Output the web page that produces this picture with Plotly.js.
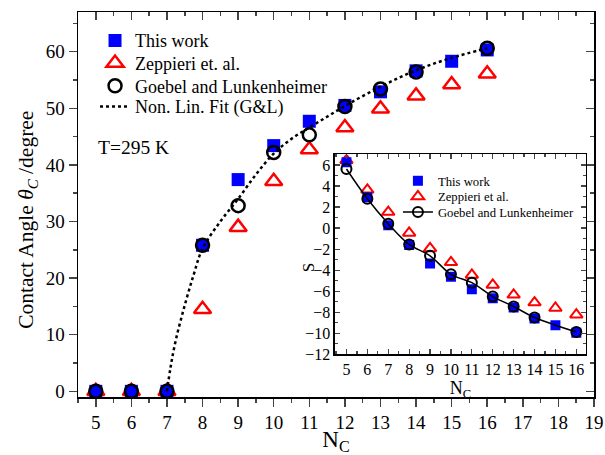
<!DOCTYPE html>
<html>
<head>
<meta charset="utf-8">
<script src="https://cdn.plot.ly/plotly-3.0.1.min.js"></script>
<style>
html,body{margin:0;padding:0;background:#fff;}
#chart{width:605px;height:455px;}
#chart svg text, #chart svg tspan { font-family: 'Liberation Serif', 'Times New Roman', serif !important; }
</style>
</head>
<body>
<div id="chart"></div>
<script>
// ---- Main chart data: contact angle vs N_C ----
const nc = [5, 6, 7, 8, 9, 10, 11, 12, 13, 14, 15, 16];
const thisWorkTheta = [0, 0, 0, 25.8, 37.4, 43.4, 47.7, 50.5, 52.9, 56.6, 58.3, 60.3];
const zeppieriTheta = [0, 0, 0, 14.5, 29.0, 37.1, 42.7, 46.6, 49.9, 52.2, 54.2, 56.1];
const goebelNc = [5, 6, 7, 8, 9, 10, 11, 12, 13, 14, 16];
const goebelTheta = [0, 0, 0, 25.8, 32.8, 42.2, 45.3, 50.3, 53.4, 56.4, 60.6];
const fitNc = [7, 7.1, 7.25, 7.5, 7.75, 8, 8.5, 9, 9.5, 10, 10.5, 11, 11.5, 12, 13, 14, 15, 16];
const fitTheta = [0, 4.2, 9.1, 15.2, 20.6, 25.2, 30.0, 34.0, 38.3, 42.0, 44.6, 46.6, 48.5, 50.4, 53.8, 56.7, 58.9, 60.6];

// ---- Inset data: S vs N_C ----
const insetNc = [5, 6, 7, 8, 9, 10, 11, 12, 13, 14, 15, 16];
const thisWorkS = [6.25, 2.94, 0.26, -1.6, -3.36, -4.62, -5.81, -6.67, -7.55, -8.6, -9.25, -9.95];
const zeppieriS = [6.45, 3.64, 1.52, -0.46, -1.94, -3.26, -4.46, -5.41, -6.35, -7.08, -7.6, -8.24];
const goebelInsetNc = [5, 6, 7, 8, 9, 10, 11, 12, 13, 14, 16];
const goebelS = [5.62, 2.79, 0.42, -1.56, -2.64, -4.4, -5.19, -6.51, -7.46, -8.5, -9.88];

const xTickVals = [5, 6, 7, 8, 9, 10, 11, 12, 13, 14, 15, 16, 17, 18, 19];
const yTickVals = [0, 10, 20, 30, 40, 50, 60];
const insetXTicks = [5, 6, 7, 8, 9, 10, 11, 12, 13, 14, 15, 16];
const insetYTicks = [-12, -10, -8, -6, -4, -2, 0, 2, 4, 6];

const BLUE = '#0000FF', RED = '#FF0000', BLACK = '#000000';
const FONT = 'Liberation Serif';

const traces = [
  {x: nc, y: zeppieriTheta, mode: 'markers', name: 'Zeppieri et. al.', legend: 'legend3',
   marker: {symbol: 'triangle-up-open', size: 15, color: RED, line: {width: 2.5, color: RED}}},
  {x: nc, y: thisWorkTheta, mode: 'markers', name: 'This work', legend: 'legend',
   marker: {symbol: 'square', size: 13, color: BLUE, line: {width: 0}}},
  {x: goebelNc, y: goebelTheta, mode: 'markers', name: 'Goebel and Lunkenheimer', legend: 'legend4',
   marker: {symbol: 'circle-open', size: 13, color: BLACK, line: {width: 2.5, color: BLACK}}},
  {x: fitNc, y: fitTheta, mode: 'lines', name: 'Non. Lin. Fit (G&amp;L)', legend: 'legend5',
   line: {shape: 'spline', dash: 'dot', width: 2.5, color: BLACK}},
  // dummy trace for mirrored axes (top/right ticks inside)
  {x: [null], y: [null], xaxis: 'x3', yaxis: 'y3', mode: 'markers', showlegend: false, hoverinfo: 'skip'},
  // inset
  {x: insetNc, y: zeppieriS, xaxis: 'x2', yaxis: 'y2', legend: 'legend6', mode: 'markers', name: 'Zeppieri et al.',
   marker: {symbol: 'triangle-up-open', size: 11, color: RED, line: {width: 2, color: RED}}},
  {x: insetNc, y: thisWorkS, xaxis: 'x2', yaxis: 'y2', legend: 'legend2', mode: 'markers', name: 'This work',
   marker: {symbol: 'square', size: 10, color: BLUE, line: {width: 0}}},
  {x: goebelInsetNc, y: goebelS, xaxis: 'x2', yaxis: 'y2', legend: 'legend7', mode: 'lines+markers', name: 'Goebel and Lunkenheimer',
   line: {shape: 'spline', width: 1.5, color: BLACK},
   marker: {symbol: 'circle-open', size: 10, color: BLACK, line: {width: 2, color: BLACK}}}
];

function leg(x, y, size) {
  return {x: x, y: y, xanchor: 'left', yanchor: 'middle', bgcolor: 'rgba(0,0,0,0)',
          font: {size: size, family: FONT, color: BLACK}, tracegroupgap: 0};
}

const layout = {
  width: 605, height: 455,
  margin: {l: 78, r: 11, t: 12, b: 58},
  paper_bgcolor: '#fff', plot_bgcolor: 'rgba(0,0,0,0)',
  font: {family: FONT, color: BLACK, size: 17},
  showlegend: true,
  xaxis: {
    range: [4.5, 19], tickvals: xTickVals, ticks: 'outside', ticklen: 8, tickwidth: 1.5,
    showline: true, linewidth: 1.5, linecolor: BLACK, zeroline: false, showgrid: false,
    tickfont: {size: 19, family: FONT},
    minor: {dtick: 0.5, ticks: 'outside', ticklen: 4, tickwidth: 1.5, showgrid: false},
    title: {text: 'N<sub>C</sub>', font: {size: 23, family: FONT}, standoff: 9}
  },
  yaxis: {
    range: [-1, 67], tickvals: yTickVals, ticks: 'outside', ticklen: 8, tickwidth: 1.5,
    showline: true, linewidth: 1.5, linecolor: BLACK, zeroline: false, showgrid: false,
    tickfont: {size: 19, family: FONT},
    minor: {dtick: 5, ticks: 'outside', ticklen: 4, tickwidth: 1.5, showgrid: false}
  },
  xaxis3: {
    overlaying: 'x', anchor: 'y3', side: 'top', range: [4.5, 19], tickvals: xTickVals,
    ticks: 'inside', ticklen: 8, tickwidth: 1.5, showticklabels: false,
    showline: true, linewidth: 1.5, linecolor: BLACK, zeroline: false, showgrid: false,
    minor: {dtick: 0.5, ticks: 'inside', ticklen: 4, tickwidth: 1.5, showgrid: false}
  },
  yaxis3: {
    overlaying: 'y', anchor: 'x3', side: 'right', range: [-1, 67], tickvals: yTickVals,
    ticks: 'inside', ticklen: 8, tickwidth: 1.5, showticklabels: false,
    showline: true, linewidth: 1.5, linecolor: BLACK, zeroline: false, showgrid: false,
    minor: {dtick: 5, ticks: 'inside', ticklen: 4, tickwidth: 1.5, showgrid: false}
  },
  xaxis2: {
    domain: [0.498, 0.984], anchor: 'y2', range: [4.45, 16.45], tickvals: insetXTicks,
    ticks: 'inside', ticklen: 5, tickwidth: 1.2, mirror: 'allticks',
    showline: true, linewidth: 1.5, linecolor: BLACK, zeroline: false, showgrid: false,
    tickfont: {size: 16, family: FONT},
    minor: {dtick: 0.5, ticks: 'inside', ticklen: 3, tickwidth: 1.2, showgrid: false},
    title: {text: 'N<sub>C</sub>', font: {size: 18, family: FONT}, standoff: 0}
  },
  yaxis2: {
    domain: [0.111, 0.63], anchor: 'x2', range: [-12, 7], tickvals: insetYTicks,
    ticks: 'inside', ticklen: 5, tickwidth: 1.2, mirror: 'allticks',
    showline: true, linewidth: 1.5, linecolor: BLACK, zeroline: false, showgrid: false,
    tickfont: {size: 16, family: FONT},
    minor: {dtick: 1, ticks: 'inside', ticklen: 3, tickwidth: 1.2, showgrid: false}
  },
  legend: leg(0.033, 0.9255, 18),
  legend3: leg(0.033, 0.8668, 18),
  legend4: leg(0.033, 0.8078, 18),
  legend5: leg(0.033, 0.754, 18),
  legend2: leg(0.620, 0.561, 12.7),
  legend6: leg(0.620, 0.5203, 12.7),
  legend7: leg(0.620, 0.4797, 12.7),
  annotations: [
    {text: 'T=295 K', xref: 'paper', yref: 'paper', x: 0.035, y: 0.649, xanchor: 'left', yanchor: 'middle',
     showarrow: false, font: {size: 19.5, family: FONT, color: BLACK}},
    {text: 'Contact Angle <i>θ</i><sub><i>C</i></sub> /degree', xref: 'paper', yref: 'paper',
     x: -0.097, y: 0.46, xanchor: 'center', yanchor: 'middle', textangle: -90,
     showarrow: false, font: {size: 21.5, family: FONT, color: BLACK}},
    {text: 'S', xref: 'paper', yref: 'paper', x: 0.446, y: 0.335, xanchor: 'center', yanchor: 'middle',
     textangle: -90, showarrow: false, font: {size: 17, family: FONT, color: BLACK}}
  ]
};

Plotly.newPlot('chart', traces, layout, {displayModeBar: false, staticPlot: true});
</script>
</body>
</html>
